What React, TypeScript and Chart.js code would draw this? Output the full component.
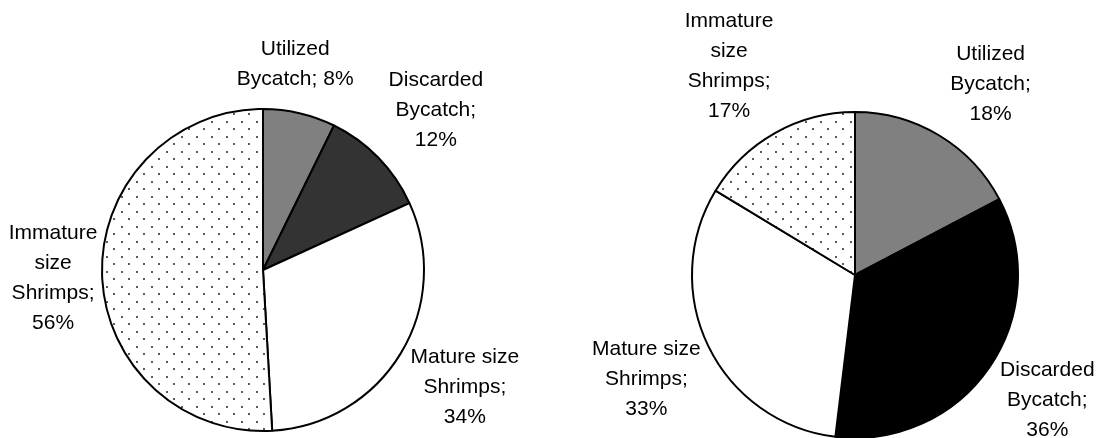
import React, { useEffect, useRef } from "react";
import { Chart, registerables } from "chart.js";

Chart.register(...registerables);

// ---- data ----
const categories = [
  "Utilized Bycatch",
  "Discarded Bycatch",
  "Mature size Shrimps",
  "Immature size Shrimps",
];
const leftValues = [8, 12, 34, 56];
const rightValues = [18, 36, 33, 17];

// ---- styling ----
const LABEL_FONT = '21px "Liberation Sans", Arial, sans-serif';
const LINE_HEIGHT = 30;
const WRAP_WIDTH = 125;
const LABEL_GAP = 5;
// small per-label placement adjustments (px) applied after the outside-end placement
const leftLabelNudge = [
  [-15, -3],
  [7, 1],
  [0, -5],
  [2, 2],
];
const rightLabelNudge = [
  [18, 4],
  [1, -7],
  [4, 1],
  [-7, 2],
];

function makeDots(): CanvasPattern | string {
  const c = document.createElement("canvas");
  c.width = 15;
  c.height = 15;
  const g = c.getContext("2d");
  if (!g) return "#fff";
  g.fillStyle = "#ffffff";
  g.fillRect(0, 0, 15, 15);
  g.fillStyle = "#5a5a5a";
  g.fillRect(1, 1, 2, 2);
  g.fillRect(8, 8, 2, 2);
  return g.createPattern(c, "repeat") || "#fff";
}

function wrap(ctx: CanvasRenderingContext2D, text: string, maxW: number): string[] {
  const words = text.split(" ");
  const lines: string[] = [];
  let cur = "";
  for (const w of words) {
    const test = cur ? cur + " " + w : w;
    if (cur && ctx.measureText(test).width > maxW) {
      lines.push(cur);
      cur = w;
    } else {
      cur = test;
    }
  }
  if (cur) lines.push(cur);
  return lines;
}

function makeLabelPlugin(nudge: number[][]) {
  return {
    id: "outsideLabels",
    afterDraw(chart: any) {
      const ctx: CanvasRenderingContext2D = chart.ctx;
      const meta = chart.getDatasetMeta(0);
      const ds = chart.data.datasets[0];
      ctx.save();
      ctx.font = LABEL_FONT;
      ctx.fillStyle = "#000";
      ctx.textAlign = "center";
      ctx.textBaseline = "middle";
      meta.data.forEach((arc: any, i: number) => {
        const { x, y, startAngle, endAngle, outerRadius } = arc.getProps(
          ["x", "y", "startAngle", "endAngle", "outerRadius"],
          true
        );
        const text = `${chart.data.labels[i]}; ${ds.data[i]}%`;
        const lines = wrap(ctx, text, WRAP_WIDTH);
        const w = Math.max(...lines.map((l) => ctx.measureText(l).width));
        const h = lines.length * LINE_HEIGHT;
        const mid = (startAngle + endAngle) / 2;
        const ux = Math.cos(mid);
        const uy = Math.sin(mid);
        const ext = (Math.abs(ux) * w) / 2 + (Math.abs(uy) * h) / 2;
        const d = outerRadius + LABEL_GAP + ext;
        const [nx, ny] = nudge[i] || [0, 0];
        const cx = x + ux * d + nx;
        const cy = y + uy * d + ny;
        lines.forEach((l, k) => {
          ctx.fillText(l, cx, cy - h / 2 + LINE_HEIGHT * (k + 0.5));
        });
      });
      ctx.restore();
    },
  };
}

type PieProps = {
  values: number[];
  colors: string[];
  nudge: number[][];
  left: number;
  padding: { left: number; right: number; top: number; bottom: number };
  radius: number;
};

function PieChart({ values, colors, nudge, left, padding, radius }: PieProps) {
  const ref = useRef<HTMLCanvasElement | null>(null);
  useEffect(() => {
    if (!ref.current) return;
    const dots = makeDots();
    const bg = colors.map((c) => (c === "pattern" ? dots : c));
    const chart = new Chart(ref.current, {
      type: "pie",
      data: {
        labels: categories,
        datasets: [
          {
            data: values,
            backgroundColor: bg as any,
            borderColor: "#000000",
            borderWidth: 2,
            hoverOffset: 0,
            radius: radius,
          } as any,
        ],
      },
      options: {
        animation: false,
        responsive: false,
        layout: { padding },
        plugins: {
          legend: { display: false },
          tooltip: { enabled: false },
        },
        events: [],
      },
      plugins: [makeLabelPlugin(nudge) as any],
    });
    return () => chart.destroy();
  }, []);
  return (
    <canvas
      ref={ref}
      width={550}
      height={438}
      style={{ position: "absolute", left, top: 0, width: 550, height: 438 }}
    />
  );
}

export default function App() {
  return (
    <div style={{ position: "absolute", left: 0, top: 0, width: 1099, height: 438, background: "#fff" }}>
      <PieChart
        values={leftValues}
        colors={["#808080", "#333333", "#ffffff", "pattern"]}
        nudge={leftLabelNudge}
        left={0}
        padding={{ left: 0, right: 24, top: 102, bottom: 0 }}
        radius={161}
      />
      <PieChart
        values={rightValues}
        colors={["#808080", "#000000", "#ffffff", "pattern"]}
        nudge={rightLabelNudge}
        left={549}
        padding={{ left: 62, right: 0, top: 112, bottom: 0 }}
        radius={163}
      />
    </div>
  );
}
